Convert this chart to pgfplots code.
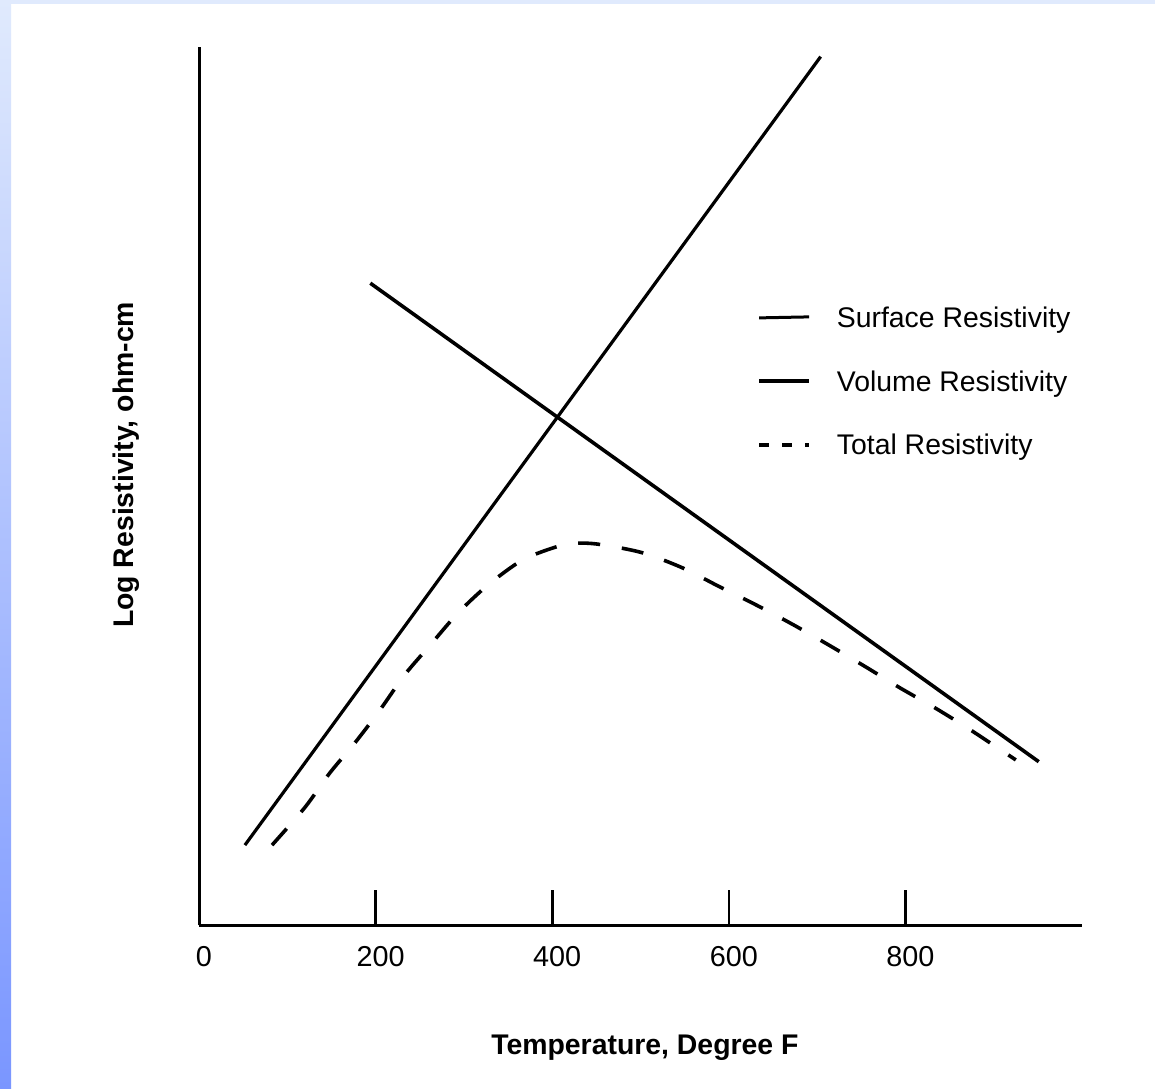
\documentclass[border=0pt]{standalone}
\usepackage{fontspec}
\setmainfont{Liberation Sans}
\usepackage{pgfplots}
\pgfplotsset{compat=1.18}
\definecolor{bluetop}{RGB}{224,234,253}
\definecolor{bluebot}{RGB}{122,150,255}
\begin{document}
\begin{tikzpicture}
% page frame, 1 px = 0.5pt
\fill[white] (0,0) rectangle (577.5pt,544pt);
\shade[top color=bluetop, bottom color=bluebot] (0,0) rectangle (5.5pt,544pt);
\fill[bluetop] (0,542pt) rectangle (577.5pt,544pt);
\begin{axis}[
  at={(99.5pt,81.5pt)}, anchor=south west,
  scale only axis,
  width=441.5pt, height=439pt,
  xmin=0, xmax=1000, ymin=0, ymax=10,
  axis x line*=bottom, axis y line*=left,
  axis line style={line width=1.5pt},
  xtick={0,200,400,600,800}, ytick=\empty,
  tick align=inside, major tick length=17.5pt,
  tick style={line width=1.3pt, black},
  font=\fontsize{14.2}{17}\selectfont,
  /pgf/number format/assume math mode=true,
  xticklabel style={font=\fontsize{14.4}{17}\selectfont, xshift=2.5pt, yshift=-7pt},
  every axis x label/.style={at={(axis description cs:0.505,-0.148)}, anchor=base},
  every axis y label/.style={at={(axis description cs:-0.0747,0.524)}, rotate=90, anchor=base},
  xlabel={\bfseries Temperature, Degree F},
  ylabel={\bfseries Log Resistivity, ohm-cm},
  legend style={at={(axis description cs:0.632,0.704)}, anchor=north west,
    draw=none, fill=none, inner sep=0pt, outer sep=0pt,
    row sep=18.25pt, column sep=0pt,
    nodes={inner sep=0pt, text height=10.5pt, text depth=3pt, anchor=base west},
    font=\fontsize{14.2}{17}\selectfont},
  legend cell align=left,
]
\addplot[black, line width=1.6pt,
  legend image code/.code={\draw[black, line width=1.5pt] (0pt,5pt) -- (25pt,5.5pt); \path (38pt,0pt);}]
  coordinates {(52,0.91) (704,9.89)};
\addlegendentry{Surface Resistivity}
\addplot[black, line width=1.8pt,
  legend image code/.code={\draw[black, line width=2pt] (0pt,5pt) -- (25pt,5pt); \path (38pt,0pt);}]
  coordinates {(194,7.31) (951,1.86)};
\addlegendentry{Volume Resistivity}
\addplot[black, line width=1.8pt, smooth, dash pattern=on 11pt off 11pt,
  legend image code/.code={\draw[black, line width=1.8pt, dash pattern=on 5pt off 6.5pt] (0pt,5pt) -- (25pt,5pt); \path (38pt,0pt);}]
  coordinates {
  (82.7,0.91) (120,1.34) (148,1.73) (177,2.08) (205,2.45) (233,2.85)
  (262,3.19) (293,3.55) (327,3.87) (367,4.16) (409,4.32) (432,4.35)
  (457,4.33) (502,4.24) (547,4.07) (590,3.85) (632,3.64) (673,3.42)
  (713,3.19) (755,2.94) (794,2.70) (834,2.47) (874,2.22) (925,1.88)
  };
\addlegendentry{Total Resistivity}
\end{axis}
\end{tikzpicture}
\end{document}
